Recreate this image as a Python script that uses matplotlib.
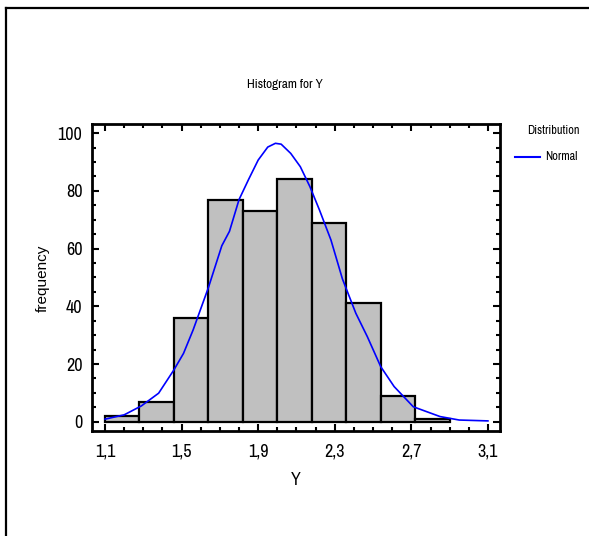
import matplotlib
matplotlib.use("Agg")
import matplotlib.pyplot as plt
from matplotlib import font_manager
from matplotlib.font_manager import FontProperties
from matplotlib.lines import Line2D
from matplotlib.ticker import MultipleLocator, FixedLocator

# ---- data ----
bin_edges = [1.10, 1.28, 1.46, 1.64, 1.82, 2.00, 2.18, 2.36, 2.54, 2.72, 2.90]
counts = [2, 7, 36, 77, 73, 84, 69, 41, 9, 1]

curve_x = [1.10, 1.20, 1.29, 1.38, 1.46, 1.51, 1.56, 1.64, 1.71, 1.75, 1.80, 1.85,
           1.90, 1.95, 1.99, 2.02, 2.07, 2.12, 2.17, 2.22, 2.28, 2.34, 2.41, 2.47,
           2.54, 2.61, 2.71, 2.85, 2.95, 3.10]
curve_y = [0.9, 2.4, 5.5, 9.9, 18.0, 23.7, 31.8, 46.5, 61.0, 66.0, 77.0, 84.0,
           90.7, 95.2, 96.5, 96.2, 93.0, 88.4, 81.5, 73.4, 63.0, 49.5, 37.6, 29.5,
           19.1, 12.2, 5.2, 1.8, 0.6, 0.3]

x_ticks = [1.1, 1.5, 1.9, 2.3, 2.7, 3.1]
x_tick_labels = ["1,1", "1,5", "1,9", "2,3", "2,7", "3,1"]
y_ticks = [0, 20, 40, 60, 80, 100]

title = "Histogram for Y"
xlabel = "Y"
ylabel = "frequency"
legend_title = "Distribution"
legend_label = "Normal"


# ---- find a condensed sans font, if any is installed ----
def _stretch_val(s):
    table = {"ultra-condensed": 100, "extra-condensed": 200, "condensed": 300,
             "semi-condensed": 400, "normal": 500}
    if isinstance(s, (int, float)):
        return s
    return table.get(str(s), 500)


def pick_condensed():
    best = None
    for f in font_manager.fontManager.ttflist:
        if f.style != "normal":
            continue
        w = f.weight if isinstance(f.weight, int) else (400 if f.weight in ("normal", "regular", "book") else 700)
        if w not in (400,):
            continue
        name = f.name
        fn = f.fname.lower()
        score = None
        if "narrow" in name.lower() or "narrow" in fn:
            score = 0
        elif "extracondensed" in fn.replace("-", "").replace("_", "") or "extra condensed" in name.lower():
            score = 1
        elif "semicondensed" in fn.replace("-", "").replace("_", ""):
            score = 4
        elif "condensed" in name.lower() or "condensed" in fn or _stretch_val(f.stretch) <= 300:
            score = 2
        if score is None:
            continue
        if "mono" in fn or "serif" in fn.replace("sans", ""):
            score += 10
        if best is None or score < best[0]:
            best = (score, f.fname)
    return best[1] if best else None


cond_path = pick_condensed()


def cfont(size):
    if cond_path:
        return FontProperties(fname=cond_path, size=size)
    return FontProperties(family="Liberation Sans", size=size * 0.85)


fig = plt.figure(figsize=(5.89, 5.36), dpi=100)
ax = fig.add_axes([0.1562, 0.1959, 0.6927, 0.5728])

widths = [bin_edges[i + 1] - bin_edges[i] for i in range(len(counts))]
ax.bar(bin_edges[:-1], counts, width=widths, align="edge",
       facecolor="#c0c0c0", edgecolor="black", linewidth=1.6, zorder=2)
ax.plot(curve_x, curve_y, color="#0000ff", linewidth=1.2, zorder=3)

ax.set_xlim(1.032, 3.163)
ax.set_ylim(-3.2, 103.2)

ax.xaxis.set_major_locator(FixedLocator(x_ticks))
ax.set_xticklabels(x_tick_labels)
ax.xaxis.set_minor_locator(MultipleLocator(0.1))
ax.yaxis.set_major_locator(FixedLocator(y_ticks))
ax.yaxis.set_minor_locator(MultipleLocator(5))

ax.tick_params(which="both", direction="in", top=True, right=True, width=1.5)
ax.tick_params(which="major", length=5)
ax.tick_params(which="minor", length=3)
ax.tick_params(axis="x", which="major", pad=9)
ax.tick_params(axis="y", which="major", pad=7)
for lbl in ax.get_xticklabels() + ax.get_yticklabels():
    lbl.set_fontproperties(cfont(13))

for s in ax.spines.values():
    s.set_linewidth(2)

ax.set_xlabel(xlabel, fontproperties=cfont(13), labelpad=9)
ax.set_ylabel(ylabel, fontfamily="Liberation Sans", fontsize=11)
ax.yaxis.label.set_va("center")
ax.yaxis.set_label_coords((43 - 92) / 408, 0.5 + (276.5 - 277.5) / 307)

fig.text(285 / 589, 1 - 84 / 536, title, ha="center", va="center",
         fontproperties=cfont(9.5))

# legend-like annotation on the right
fig.text(527 / 589, 1 - 131 / 536, legend_title, ha="left", va="center",
         fontproperties=cfont(8.8))
fig.add_artist(Line2D([515 / 589, 540 / 589], [1 - 157 / 536, 1 - 157 / 536],
                      color="#0000ff", linewidth=1.5))
fig.text(545 / 589, 1 - 157 / 536, legend_label, ha="left", va="center",
         fontproperties=cfont(8.8))

# outer frame (left and top edges)
fig.add_artist(Line2D([6 / 589, 6 / 589], [0, 1 - 8 / 536], color="black", linewidth=1.6))
fig.add_artist(Line2D([6 / 589, 1], [1 - 8 / 536, 1 - 8 / 536], color="black", linewidth=1.6))

fig.savefig("out.png", dpi=100)
